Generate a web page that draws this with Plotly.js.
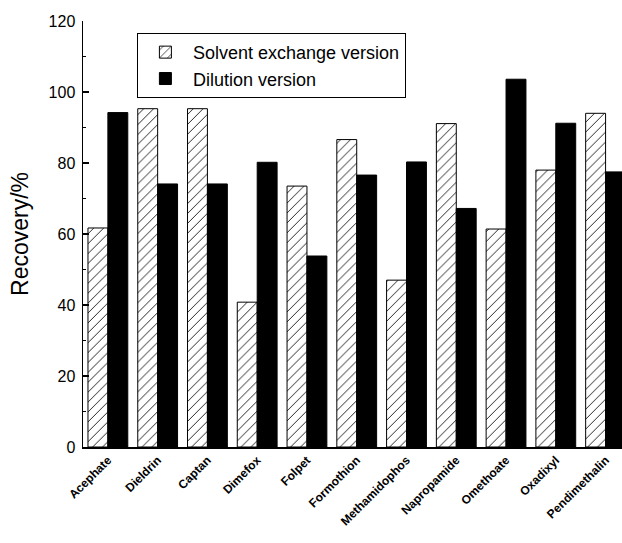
<!DOCTYPE html>
<html>
<head>
<meta charset="utf-8">
<script src="https://cdn.plot.ly/plotly-3.0.1.min.js"></script>
<style>html,body{margin:0;padding:0;background:#fff;}#chart{width:622px;height:543px;}</style>
</head>
<body>
<div id="chart"></div>
<script>
var categories = ["Acephate","Dieldrin","Captan","Dimefox","Folpet","Formothion","Methamidophos","Napropamide","Omethoate","Oxadixyl","Pendimethalin"];
var solventExchange = [61.7, 95.3, 95.3, 40.8, 73.5, 86.6, 47.0, 91.1, 61.4, 78.0, 94.0];
var dilution = [94.2, 74.1, 74.1, 80.2, 53.8, 76.6, 80.3, 67.2, 103.6, 91.2, 77.5];
var seriesNames = ["Solvent exchange version", "Dilution version"];

var traces = [
  {
    type: "bar", name: seriesNames[0], x: categories, y: solventExchange,
    marker: {
      color: "#ffffff",
      line: {color: "#000000", width: 1},
      pattern: {shape: "/", fgcolor: "#000000", bgcolor: "#ffffff", size: 7, solidity: 0.12}
    }
  },
  {
    type: "bar", name: seriesNames[1], x: categories, y: dilution,
    marker: {color: "#000000", line: {color: "#000000", width: 1}}
  }
];

var layout = {
  width: 622, height: 543,
  margin: {l: 83, r: 0, t: 21, b: 96, pad: 0},
  paper_bgcolor: "#ffffff", plot_bgcolor: "#ffffff",
  font: {family: "Liberation Sans, Arial, sans-serif", color: "#000000"},
  barmode: "group", bargap: 0.2, bargroupgap: 0,
  showlegend: true,
  legend: {
    x: 0.1, y: 0.972, xanchor: "left", yanchor: "top",
    bordercolor: "#000000", borderwidth: 1, bgcolor: "#ffffff",
    font: {size: 18, family: "Liberation Sans, Arial, sans-serif"},
    itemwidth: 45,
    tracegroupgap: 0
  },
  xaxis: {
    type: "category",
    range: [-0.5, 10.33],
    showline: true, linecolor: "#000000", linewidth: 1.5,
    ticks: "", showgrid: false, zeroline: false,
    tickangle: -45,
    tickfont: {size: 12, family: "Liberation Sans, Arial, sans-serif", weight: "bold"}
  },
  yaxis: {
    range: [0, 120],
    tickvals: [0, 20, 40, 60, 80, 100, 120],
    showline: true, linecolor: "#000000", linewidth: 1.5,
    ticks: "inside", ticklen: 6, tickwidth: 1.5, tickcolor: "#000000",
    ticklabelstandoff: 3,
    minor: {dtick: 10, ticks: "inside", ticklen: 3, tickwidth: 1, tickcolor: "#000000", showgrid: false},
    showgrid: false, zeroline: false,
    tickfont: {size: 16},
    title: {text: "Recovery/%", font: {size: 23}, standoff: 13}
  }
};

Plotly.newPlot("chart", traces, layout, {displayModeBar: false, staticPlot: true});
</script>
</body>
</html>
